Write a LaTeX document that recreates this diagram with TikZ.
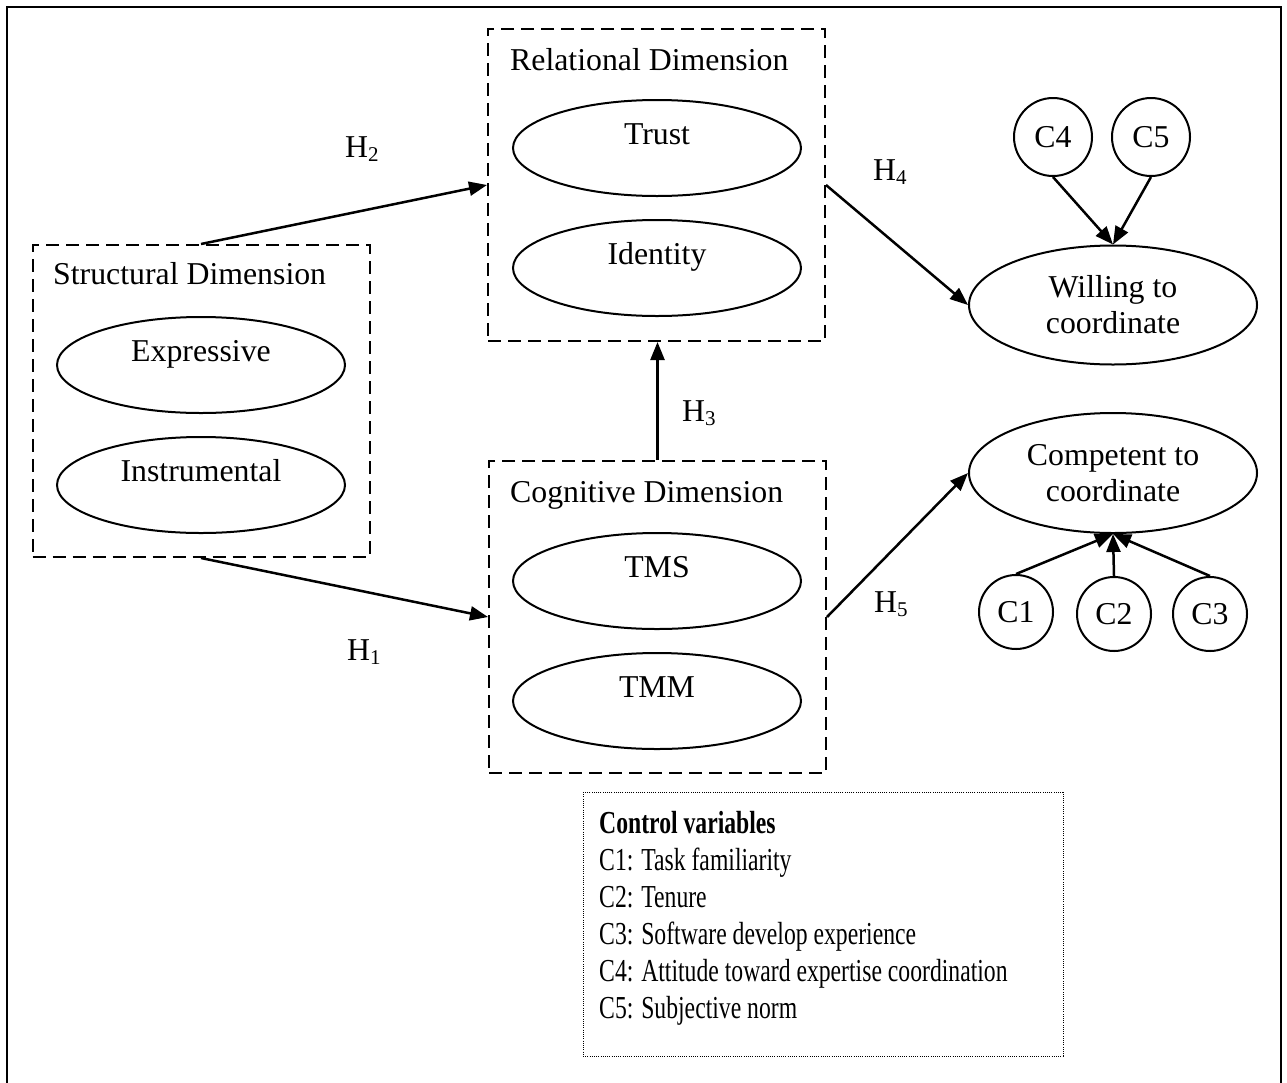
\documentclass[tikz,border=0pt]{standalone}
\usepackage{fontspec}
\setmainfont{Liberation Serif}
\newfontfamily\legendfont{Liberation Serif}[FakeStretch=0.74]
\usetikzlibrary{shapes.geometric,arrows.meta}
\newcommand\Hyp[1]{H\raisebox{-4pt}{\fontsize{21}{21}\selectfont #1}}
\begin{document}
\begin{tikzpicture}[x=1pt,y=-1pt,
  every node/.style={inner sep=0pt, font=\fontsize{31.8}{36}\selectfont},
  dimbox/.style={draw, line width=2pt, dash pattern=on 13pt off 7pt, minimum width=337pt, minimum height=312pt},
  oval/.style={draw, ellipse, line width=2pt, minimum width=288pt, minimum height=96pt, text height=22pt, text depth=29pt},
  bigoval/.style={draw, ellipse, line width=2pt, minimum width=288pt, minimum height=119pt, align=center},
  ctrl/.style={draw, circle, line width=2pt, minimum size=76pt},
  title/.style={anchor=base west},
  arr/.style={line width=2.5pt, -{Triangle[length=18pt,width=14pt]}},
  hlab/.style={anchor=base west}
]
\useasboundingbox (0,0) rectangle (1287,1082);
% outer frame
\draw[line width=2.5pt] (7,1090) -- (7,7) -- (1281,7) -- (1281,1090);

% dimension boxes
\node[dimbox] (struct) at (201,401) {};
\node[dimbox] (rel) at (656.5,185) {};
\node[dimbox] (cog) at (657.5,617) {};

\node[title] (tstruct) at (53,284) {Structural Dimension};
\node[title] (trel) at (510,70) {Relational Dimension};
\node[title] (tcog) at (510,502) {Cognitive Dimension};

% inner ellipses
\node[oval] (expr) at (201,365) {Expressive};
\node[oval] (instr) at (201,485) {Instrumental};
\node[oval] (trust) at (657,148) {Trust};
\node[oval] (ident) at (657,268) {Identity};
\node[oval] (tms) at (657,581) {TMS};
\node[oval] (tmm) at (657,701) {TMM};

% outcomes
\node[bigoval] (will) at (1113,305) {Willing to\\coordinate};
\node[bigoval, minimum height=120pt] (comp) at (1113,473) {Competent to\\coordinate};

% control circles
\node[ctrl, minimum size=78pt] (c4) at (1053,137) {C4};
\node[ctrl, minimum size=78pt] (c5) at (1151,137) {C5};
\node[ctrl, minimum size=74pt] (c1) at (1016,612) {C1};
\node[ctrl, minimum size=74pt] (c2) at (1114,614) {C2};
\node[ctrl, minimum size=74pt] (c3) at (1210,614) {C3};

% hypothesis arrows
\draw[arr] (struct.north) -- (rel.west);
\draw[arr] (struct.south) -- (cog.west);
\draw[arr] (cog.north) -- (cog.north |- rel.south);
\draw[arr] (rel.east) -- (will.west);
\draw[arr] (cog.east) -- (comp.west);

% control arrows
\draw[arr] (c4.south) -- (will.north);
\draw[arr] (c5.south) -- (will.north);
\draw[arr] (c1.north) -- (comp.south);
\draw[arr] (c2.north) -- (comp.south);
\draw[arr] (c3.north) -- (comp.south);

% hypothesis labels
\node[hlab] (h2) at (345,157) {\Hyp{2}};
\node[hlab] (h1) at (347,660) {\Hyp{1}};
\node[hlab] (h3) at (682,421) {\Hyp{3}};
\node[hlab] (h4) at (873,180) {\Hyp{4}};
\node[hlab] (h5) at (874,612) {\Hyp{5}};

% legend
\draw[line width=1pt, dash pattern=on 1pt off 1.2pt] (583,792) rectangle (1063,1056);
\node[anchor=north west, align=left, font=\legendfont\fontsize{32}{37}\selectfont] (legend) at (599,811)
 {\textbf{Control variables}\\
  C1: Task familiarity\\
  C2: Tenure\\
  C3: Software develop experience\\
  C4: Attitude toward expertise coordination\\
  C5: Subjective norm};
\end{tikzpicture}
\end{document}
